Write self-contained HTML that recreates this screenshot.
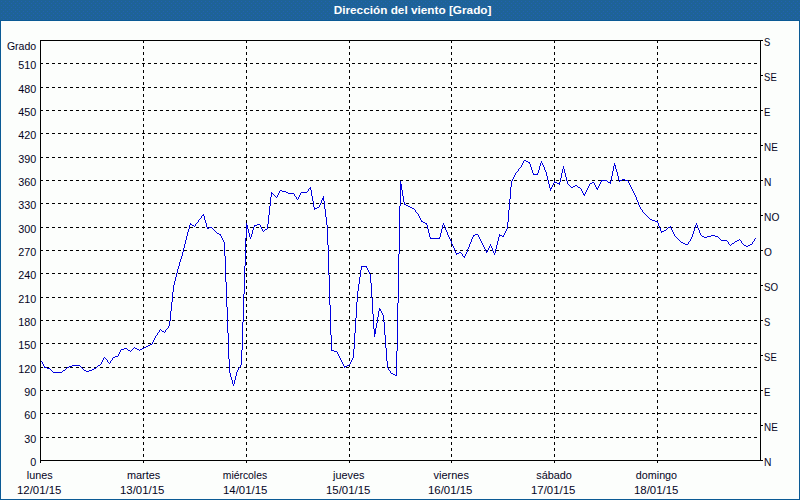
<!DOCTYPE html>
<html lang="es"><head><meta charset="utf-8"><title>Dirección del viento [Grado]</title>
<style>
html,body{margin:0;padding:0;background:#fff;}
body{width:800px;height:500px;overflow:hidden;font-family:"Liberation Sans",sans-serif;}
svg{display:block;}
text{font-family:"Liberation Sans",sans-serif;font-size:11px;fill:#04041c;}
.t{font-weight:bold;fill:#fff;font-size:11px;}
.g{stroke:#000;stroke-width:1;stroke-dasharray:3 3;shape-rendering:crispEdges;fill:none;}
.a{stroke:#000;stroke-width:1;shape-rendering:crispEdges;fill:none;}
.e{text-anchor:end;}.m{text-anchor:middle;}
</style></head><body>
<svg width="800" height="500" viewBox="0 0 800 500">
<defs><pattern id="d" width="4" height="4" patternUnits="userSpaceOnUse"><rect x="1" y="1" width="1" height="1" fill="#2161b3"/><rect x="3" y="3" width="1" height="1" fill="#2161b3"/></pattern></defs>
<rect x="0" y="0" width="800" height="500" fill="#0b5a95" shape-rendering="crispEdges"/>
<rect x="1" y="21" width="798" height="478" fill="#fcfefc" shape-rendering="crispEdges"/>
<rect x="0" y="0" width="800" height="20" fill="#1e6397" shape-rendering="crispEdges"/>
<rect x="0" y="0" width="800" height="20" fill="url(#d)" shape-rendering="crispEdges"/>
<text class="t m" x="412.6" y="14" textLength="157.8" lengthAdjust="spacingAndGlyphs">Dirección del viento [Grado]</text>
<line class="g" x1="40" y1="437.5" x2="760" y2="437.5"/>
<line class="g" x1="40" y1="413.5" x2="760" y2="413.5"/>
<line class="g" x1="40" y1="390.5" x2="760" y2="390.5"/>
<line class="g" x1="40" y1="367.5" x2="760" y2="367.5"/>
<line class="g" x1="40" y1="343.5" x2="760" y2="343.5"/>
<line class="g" x1="40" y1="320.5" x2="760" y2="320.5"/>
<line class="g" x1="40" y1="297.5" x2="760" y2="297.5"/>
<line class="g" x1="40" y1="273.5" x2="760" y2="273.5"/>
<line class="g" x1="40" y1="250.5" x2="760" y2="250.5"/>
<line class="g" x1="40" y1="227.5" x2="760" y2="227.5"/>
<line class="g" x1="40" y1="203.5" x2="760" y2="203.5"/>
<line class="g" x1="40" y1="180.5" x2="760" y2="180.5"/>
<line class="g" x1="40" y1="157.5" x2="760" y2="157.5"/>
<line class="g" x1="40" y1="133.5" x2="760" y2="133.5"/>
<line class="g" x1="40" y1="110.5" x2="760" y2="110.5"/>
<line class="g" x1="40" y1="87.5" x2="760" y2="87.5"/>
<line class="g" x1="40" y1="63.5" x2="760" y2="63.5"/>
<line class="g" x1="143.5" y1="40" x2="143.5" y2="460"/>
<line class="g" x1="246.5" y1="40" x2="246.5" y2="460"/>
<line class="g" x1="349.5" y1="40" x2="349.5" y2="460"/>
<line class="g" x1="451.5" y1="40" x2="451.5" y2="460"/>
<line class="g" x1="554.5" y1="40" x2="554.5" y2="460"/>
<line class="g" x1="657.5" y1="40" x2="657.5" y2="460"/>
<rect class="a" x="40.5" y="40.5" width="720" height="420"/>
<line class="a" x1="40.5" y1="460" x2="40.5" y2="463"/>
<line class="a" x1="143.5" y1="460" x2="143.5" y2="463"/>
<line class="a" x1="246.5" y1="460" x2="246.5" y2="463"/>
<line class="a" x1="349.5" y1="460" x2="349.5" y2="463"/>
<line class="a" x1="451.5" y1="460" x2="451.5" y2="463"/>
<line class="a" x1="554.5" y1="460" x2="554.5" y2="463"/>
<line class="a" x1="657.5" y1="460" x2="657.5" y2="463"/>
<line class="a" x1="760" y1="40.5" x2="763" y2="40.5"/>
<line class="a" x1="760" y1="75.5" x2="763" y2="75.5"/>
<line class="a" x1="760" y1="110.5" x2="763" y2="110.5"/>
<line class="a" x1="760" y1="145.5" x2="763" y2="145.5"/>
<line class="a" x1="760" y1="180.5" x2="763" y2="180.5"/>
<line class="a" x1="760" y1="215.5" x2="763" y2="215.5"/>
<line class="a" x1="760" y1="250.5" x2="763" y2="250.5"/>
<line class="a" x1="760" y1="285.5" x2="763" y2="285.5"/>
<line class="a" x1="760" y1="320.5" x2="763" y2="320.5"/>
<line class="a" x1="760" y1="355.5" x2="763" y2="355.5"/>
<line class="a" x1="760" y1="390.5" x2="763" y2="390.5"/>
<line class="a" x1="760" y1="425.5" x2="763" y2="425.5"/>
<line class="a" x1="760" y1="460.5" x2="763" y2="460.5"/>
<path d="M524 160h2v1h-2zM526 161h2v1h-2zM528 162h2v1h-2zM614 165h2v1h-2zM533 174h5v1h-5zM622 179h3v1h-3zM601 180h6v1h-6zM619 180h3v1h-3zM625 180h3v1h-3zM554 182h3v1h-3zM592 182h2v1h-2zM608 182h3v1h-3zM557 183h3v1h-3zM590 183h2v1h-2zM400 184h2v1h-2zM400 185h2v1h-2zM575 185h2v1h-2zM400 186h2v1h-2zM573 186h2v1h-2zM400 187h2v1h-2zM571 187h2v1h-2zM578 187h2v1h-2zM309 188h2v1h-2zM400 188h2v1h-2zM550 188h2v1h-2zM596 188h2v1h-2zM400 189h2v1h-2zM280 190h2v1h-2zM282 191h4v1h-4zM286 192h2v1h-2zM301 192h6v1h-6zM271 193h2v1h-2zM288 193h6v1h-6zM583 194h2v1h-2zM322 198h2v1h-2zM322 199h2v1h-2zM404 204h2v1h-2zM406 205h2v1h-2zM408 206h2v1h-2zM317 207h2v1h-2zM410 207h2v1h-2zM314 208h3v1h-3zM412 208h2v1h-2zM202 215h2v1h-2zM650 219h2v1h-2zM652 220h3v1h-3zM421 221h2v1h-2zM655 221h3v1h-3zM423 222h2v1h-2zM425 223h2v1h-2zM190 224h2v1h-2zM257 224h3v1h-3zM192 225h2v1h-2zM246 225h2v1h-2zM254 225h3v1h-3zM246 226h2v1h-2zM209 227h3v1h-3zM246 227h2v1h-2zM668 227h3v1h-3zM207 228h2v1h-2zM246 228h2v1h-2zM265 229h2v1h-2zM664 230h2v1h-2zM661 231h3v1h-3zM217 233h2v1h-2zM219 234h2v1h-2zM475 234h3v1h-3zM473 235h2v1h-2zM499 235h3v1h-3zM711 235h4v1h-4zM502 236h2v1h-2zM702 236h2v1h-2zM707 236h4v1h-4zM715 236h3v1h-3zM704 237h3v1h-3zM430 238h10v1h-10zM721 240h6v1h-6zM737 240h2v1h-2zM735 241h2v1h-2zM681 242h2v1h-2zM683 243h2v1h-2zM732 243h2v1h-2zM685 244h3v1h-3zM750 244h2v1h-2zM744 245h2v1h-2zM748 245h2v1h-2zM746 246h2v1h-2zM486 251h2v1h-2zM459 252h2v1h-2zM456 253h3v1h-3zM463 256h2v1h-2zM361 266h6v1h-6zM379 309h2v1h-2zM379 310h2v1h-2zM374 329h2v1h-2zM374 330h2v1h-2zM162 331h2v1h-2zM374 331h2v1h-2zM374 332h2v1h-2zM374 333h2v1h-2zM150 344h2v1h-2zM148 345h2v1h-2zM146 346h2v1h-2zM144 347h2v1h-2zM124 348h3v1h-3zM135 348h2v1h-2zM142 348h2v1h-2zM121 349h3v1h-3zM137 349h2v1h-2zM140 349h2v1h-2zM128 350h2v1h-2zM331 350h3v1h-3zM334 351h3v1h-3zM115 356h3v1h-3zM113 357h2v1h-2zM72 365h8v1h-8zM98 365h2v1h-2zM347 365h2v1h-2zM69 366h3v1h-3zM344 366h3v1h-3zM44 367h3v1h-3zM67 367h2v1h-2zM47 368h3v1h-3zM94 368h2v1h-2zM92 369h2v1h-2zM63 370h2v1h-2zM84 370h2v1h-2zM89 370h3v1h-3zM86 371h3v1h-3zM53 372h9v1h-9zM391 373h2v1h-2zM393 374h2v1h-2zM395 375h2v1h-2zM41 361h1v1h-1zM42 362h1v2h-1zM43 364h1v2h-1zM44 366h1v1h-1zM50 369h1v1h-1zM51 370h1v1h-1zM52 371h1v1h-1zM62 371h1v1h-1zM65 369h1v1h-1zM66 368h1v1h-1zM80 366h1v1h-1zM81 367h1v1h-1zM82 368h1v1h-1zM83 369h1v1h-1zM96 367h1v1h-1zM97 366h1v1h-1zM100 364h1v1h-1zM101 362h1v2h-1zM102 360h1v2h-1zM103 358h1v2h-1zM104 357h1v1h-1zM105 358h1v1h-1zM106 359h1v1h-1zM107 360h1v2h-1zM108 362h1v1h-1zM109 363h1v1h-1zM110 361h1v2h-1zM111 360h1v1h-1zM112 358h1v2h-1zM118 354h1v2h-1zM119 352h1v2h-1zM120 350h1v2h-1zM127 349h1v1h-1zM130 351h1v1h-1zM131 350h1v1h-1zM132 349h1v1h-1zM133 348h1v1h-1zM134 347h1v1h-1zM139 350h1v1h-1zM152 342h1v2h-1zM153 340h1v2h-1zM154 338h1v2h-1zM155 336h1v2h-1zM156 335h1v1h-1zM157 333h1v2h-1zM158 332h1v1h-1zM159 330h1v2h-1zM160 329h1v1h-1zM161 330h1v1h-1zM164 332h1v1h-1zM165 330h1v2h-1zM166 329h1v1h-1zM167 328h1v1h-1zM168 326h1v2h-1zM169 321h1v5h-1zM170 311h1v10h-1zM171 302h1v9h-1zM172 292h1v10h-1zM173 285h1v7h-1zM174 281h1v4h-1zM175 277h1v4h-1zM176 273h1v4h-1zM177 269h1v4h-1zM178 266h1v3h-1zM179 262h1v4h-1zM180 259h1v3h-1zM181 256h1v3h-1zM182 252h1v4h-1zM183 248h1v4h-1zM184 244h1v4h-1zM185 240h1v4h-1zM186 236h1v4h-1zM187 232h1v4h-1zM188 229h1v3h-1zM189 225h1v4h-1zM190 223h1v1h-1zM194 226h1v1h-1zM195 224h1v2h-1zM196 223h1v1h-1zM197 222h1v1h-1zM198 220h1v2h-1zM199 219h1v1h-1zM200 218h1v1h-1zM201 216h1v2h-1zM203 214h1v1h-1zM204 216h1v4h-1zM205 220h1v3h-1zM206 223h1v4h-1zM207 227h1v1h-1zM212 228h1v1h-1zM213 229h1v1h-1zM214 230h1v1h-1zM215 231h1v1h-1zM216 232h1v1h-1zM220 235h1v1h-1zM221 236h1v2h-1zM222 238h1v2h-1zM223 240h1v2h-1zM224 242h1v14h-1zM225 256h1v26h-1zM226 282h1v25h-1zM227 307h1v26h-1zM228 333h1v26h-1zM229 359h1v14h-1zM230 373h1v4h-1zM231 377h1v3h-1zM232 380h1v4h-1zM233 384h1v2h-1zM234 380h1v4h-1zM235 376h1v4h-1zM236 372h1v4h-1zM237 370h1v2h-1zM238 368h1v2h-1zM239 367h1v1h-1zM240 365h1v2h-1zM241 350h1v15h-1zM242 322h1v28h-1zM243 294h1v28h-1zM244 266h1v28h-1zM245 238h1v28h-1zM246 223h1v2h-1zM246 229h1v9h-1zM248 229h1v4h-1zM249 233h1v4h-1zM250 237h1v2h-1zM251 234h1v3h-1zM252 230h1v4h-1zM253 227h1v3h-1zM254 226h1v1h-1zM260 225h1v2h-1zM261 227h1v2h-1zM262 229h1v2h-1zM263 231h1v1h-1zM264 230h1v1h-1zM267 224h1v5h-1zM268 215h1v9h-1zM269 206h1v9h-1zM270 197h1v9h-1zM271 192h1v1h-1zM271 194h1v3h-1zM273 194h1v1h-1zM274 195h1v1h-1zM275 196h1v1h-1zM276 197h1v1h-1zM277 195h1v2h-1zM278 193h1v2h-1zM279 191h1v2h-1zM294 194h1v2h-1zM295 196h1v1h-1zM296 197h1v2h-1zM297 199h1v1h-1zM298 197h1v2h-1zM299 195h1v2h-1zM300 193h1v2h-1zM307 191h1v1h-1zM308 189h1v2h-1zM310 187h1v1h-1zM310 189h1v1h-1zM311 190h1v6h-1zM312 196h1v5h-1zM313 201h1v6h-1zM314 207h1v1h-1zM314 209h1v1h-1zM319 205h1v2h-1zM320 203h1v2h-1zM321 200h1v3h-1zM323 196h1v2h-1zM323 200h1v1h-1zM324 201h1v8h-1zM325 209h1v8h-1zM326 217h1v8h-1zM327 225h1v20h-1zM328 245h1v30h-1zM329 275h1v30h-1zM330 305h1v30h-1zM331 335h1v15h-1zM337 352h1v2h-1zM338 354h1v2h-1zM339 356h1v2h-1zM340 358h1v2h-1zM341 360h1v2h-1zM342 362h1v2h-1zM343 364h1v2h-1zM344 367h1v1h-1zM349 364h1v1h-1zM350 362h1v2h-1zM351 360h1v2h-1zM352 358h1v2h-1zM353 349h1v9h-1zM354 333h1v16h-1zM355 318h1v15h-1zM356 302h1v16h-1zM357 291h1v11h-1zM358 284h1v7h-1zM359 277h1v7h-1zM360 270h1v7h-1zM361 267h1v3h-1zM366 267h1v1h-1zM367 268h1v2h-1zM368 270h1v2h-1zM369 272h1v2h-1zM370 274h1v9h-1zM371 283h1v15h-1zM372 298h1v16h-1zM373 314h1v15h-1zM374 334h1v3h-1zM375 328h1v1h-1zM376 323h1v5h-1zM377 317h1v6h-1zM378 311h1v6h-1zM379 308h1v1h-1zM381 311h1v2h-1zM382 313h1v2h-1zM383 315h1v7h-1zM384 322h1v13h-1zM385 335h1v13h-1zM386 348h1v13h-1zM387 361h1v7h-1zM388 368h1v2h-1zM389 370h1v1h-1zM390 371h1v2h-1zM396 351h1v24h-1zM397 303h1v48h-1zM398 254h1v49h-1zM399 206h1v48h-1zM400 181h1v3h-1zM400 190h1v16h-1zM402 190h1v6h-1zM403 196h1v6h-1zM404 202h1v2h-1zM414 209h1v1h-1zM415 210h1v2h-1zM416 212h1v1h-1zM417 213h1v1h-1zM418 214h1v2h-1zM419 216h1v2h-1zM420 218h1v2h-1zM421 220h1v1h-1zM426 224h1v1h-1zM427 225h1v4h-1zM428 229h1v4h-1zM429 233h1v4h-1zM430 237h1v1h-1zM439 237h1v1h-1zM440 233h1v4h-1zM441 229h1v4h-1zM442 225h1v4h-1zM443 223h1v2h-1zM444 225h1v2h-1zM445 227h1v3h-1zM446 230h1v2h-1zM447 232h1v3h-1zM448 235h1v2h-1zM449 237h1v2h-1zM450 239h1v2h-1zM451 241h1v3h-1zM452 244h1v2h-1zM453 246h1v2h-1zM454 248h1v3h-1zM455 251h1v2h-1zM456 254h1v1h-1zM461 253h1v1h-1zM462 254h1v2h-1zM464 257h1v1h-1zM465 254h1v2h-1zM466 252h1v2h-1zM467 249h1v3h-1zM468 247h1v2h-1zM469 244h1v3h-1zM470 242h1v2h-1zM471 239h1v3h-1zM472 237h1v2h-1zM473 236h1v1h-1zM478 235h1v2h-1zM479 237h1v2h-1zM480 239h1v2h-1zM481 241h1v2h-1zM482 243h1v2h-1zM483 245h1v2h-1zM484 247h1v2h-1zM485 249h1v2h-1zM486 252h1v1h-1zM487 250h1v1h-1zM488 248h1v2h-1zM489 246h1v2h-1zM490 244h1v2h-1zM491 246h1v2h-1zM492 248h1v3h-1zM493 251h1v2h-1zM494 253h1v2h-1zM495 249h1v4h-1zM496 245h1v4h-1zM497 241h1v4h-1zM498 237h1v4h-1zM499 234h1v1h-1zM499 236h1v1h-1zM503 235h1v1h-1zM504 233h1v2h-1zM505 231h1v2h-1zM506 229h1v2h-1zM507 222h1v7h-1zM508 210h1v12h-1zM509 199h1v11h-1zM510 187h1v12h-1zM511 181h1v6h-1zM512 179h1v2h-1zM513 177h1v2h-1zM514 175h1v2h-1zM515 173h1v2h-1zM516 172h1v1h-1zM517 171h1v1h-1zM518 169h1v2h-1zM519 168h1v1h-1zM520 167h1v1h-1zM521 165h1v2h-1zM522 163h1v2h-1zM523 161h1v2h-1zM529 163h1v1h-1zM530 164h1v3h-1zM531 167h1v3h-1zM532 170h1v3h-1zM533 173h1v1h-1zM537 173h1v1h-1zM538 170h1v3h-1zM539 166h1v4h-1zM540 163h1v3h-1zM541 161h1v2h-1zM542 163h1v2h-1zM543 165h1v2h-1zM544 167h1v3h-1zM545 170h1v2h-1zM546 172h1v4h-1zM547 176h1v4h-1zM548 180h1v4h-1zM549 184h1v4h-1zM550 189h1v2h-1zM551 187h1v1h-1zM552 185h1v2h-1zM553 183h1v2h-1zM554 181h1v1h-1zM559 182h1v1h-1zM559 184h1v1h-1zM560 178h1v4h-1zM561 173h1v5h-1zM562 169h1v4h-1zM563 166h1v3h-1zM564 169h1v4h-1zM565 173h1v4h-1zM566 177h1v4h-1zM567 181h1v3h-1zM568 184h1v1h-1zM569 185h1v1h-1zM570 186h1v1h-1zM577 186h1v1h-1zM580 188h1v1h-1zM581 189h1v2h-1zM582 191h1v2h-1zM583 193h1v1h-1zM584 195h1v1h-1zM585 192h1v2h-1zM586 190h1v2h-1zM587 188h1v2h-1zM588 186h1v2h-1zM589 184h1v2h-1zM594 183h1v2h-1zM595 185h1v2h-1zM596 187h1v1h-1zM597 189h1v1h-1zM598 186h1v2h-1zM599 184h1v2h-1zM600 182h1v2h-1zM601 181h1v1h-1zM607 181h1v1h-1zM610 181h1v1h-1zM610 183h1v1h-1zM611 176h1v5h-1zM612 171h1v5h-1zM613 166h1v5h-1zM614 163h1v2h-1zM615 166h1v3h-1zM616 169h1v3h-1zM617 172h1v4h-1zM618 176h1v4h-1zM619 181h1v1h-1zM628 181h1v2h-1zM629 183h1v2h-1zM630 185h1v2h-1zM631 187h1v2h-1zM632 189h1v2h-1zM633 191h1v2h-1zM634 193h1v2h-1zM635 195h1v2h-1zM636 197h1v3h-1zM637 200h1v2h-1zM638 202h1v3h-1zM639 205h1v2h-1zM640 207h1v2h-1zM641 209h1v1h-1zM642 210h1v2h-1zM643 212h1v1h-1zM644 213h1v1h-1zM645 214h1v1h-1zM646 215h1v1h-1zM647 216h1v1h-1zM648 217h1v1h-1zM649 218h1v1h-1zM657 222h1v1h-1zM658 223h1v3h-1zM659 226h1v2h-1zM660 228h1v3h-1zM661 232h1v1h-1zM666 229h1v1h-1zM667 228h1v1h-1zM670 226h1v1h-1zM671 228h1v2h-1zM672 230h1v2h-1zM673 232h1v2h-1zM674 234h1v2h-1zM675 236h1v1h-1zM676 237h1v1h-1zM677 238h1v1h-1zM678 239h1v1h-1zM679 240h1v1h-1zM680 241h1v1h-1zM688 242h1v2h-1zM689 241h1v1h-1zM690 239h1v2h-1zM691 237h1v2h-1zM692 234h1v3h-1zM693 231h1v3h-1zM694 228h1v3h-1zM695 225h1v3h-1zM696 223h1v2h-1zM697 225h1v3h-1zM698 228h1v2h-1zM699 230h1v3h-1zM700 233h1v2h-1zM701 235h1v1h-1zM718 237h1v1h-1zM719 238h1v1h-1zM720 239h1v1h-1zM727 241h1v1h-1zM728 242h1v2h-1zM729 244h1v1h-1zM730 245h1v1h-1zM731 244h1v1h-1zM734 242h1v1h-1zM739 239h1v1h-1zM740 240h1v1h-1zM741 241h1v2h-1zM742 243h1v1h-1zM743 244h1v1h-1zM752 242h1v2h-1zM753 241h1v1h-1zM754 239h1v2h-1zM755 238h1v1h-1z" fill="#0000e0" stroke="none" shape-rendering="crispEdges"/>
<text class="e" x="36.2" y="49.5" textLength="29.3" lengthAdjust="spacingAndGlyphs">Grado</text>
<text class="e" x="36.2" y="465.5" textLength="6.0" lengthAdjust="spacingAndGlyphs">0</text>
<text class="e" x="36.2" y="442.5" textLength="12.0" lengthAdjust="spacingAndGlyphs">30</text>
<text class="e" x="36.2" y="418.5" textLength="12.0" lengthAdjust="spacingAndGlyphs">60</text>
<text class="e" x="36.2" y="395.5" textLength="12.0" lengthAdjust="spacingAndGlyphs">90</text>
<text class="e" x="36.2" y="372.5" textLength="18.0" lengthAdjust="spacingAndGlyphs">120</text>
<text class="e" x="36.2" y="348.5" textLength="18.0" lengthAdjust="spacingAndGlyphs">150</text>
<text class="e" x="36.2" y="325.5" textLength="18.0" lengthAdjust="spacingAndGlyphs">180</text>
<text class="e" x="36.2" y="302.5" textLength="18.0" lengthAdjust="spacingAndGlyphs">210</text>
<text class="e" x="36.2" y="278.5" textLength="18.0" lengthAdjust="spacingAndGlyphs">240</text>
<text class="e" x="36.2" y="255.5" textLength="18.0" lengthAdjust="spacingAndGlyphs">270</text>
<text class="e" x="36.2" y="232.5" textLength="18.0" lengthAdjust="spacingAndGlyphs">300</text>
<text class="e" x="36.2" y="208.5" textLength="18.0" lengthAdjust="spacingAndGlyphs">330</text>
<text class="e" x="36.2" y="185.5" textLength="18.0" lengthAdjust="spacingAndGlyphs">360</text>
<text class="e" x="36.2" y="162.5" textLength="18.0" lengthAdjust="spacingAndGlyphs">390</text>
<text class="e" x="36.2" y="138.5" textLength="18.0" lengthAdjust="spacingAndGlyphs">420</text>
<text class="e" x="36.2" y="115.5" textLength="18.0" lengthAdjust="spacingAndGlyphs">450</text>
<text class="e" x="36.2" y="92.5" textLength="18.0" lengthAdjust="spacingAndGlyphs">480</text>
<text class="e" x="36.2" y="68.5" textLength="18.0" lengthAdjust="spacingAndGlyphs">510</text>
<text x="764.1" y="45.7" textLength="6.3" lengthAdjust="spacingAndGlyphs">S</text>
<text x="764.1" y="80.7" textLength="12.6" lengthAdjust="spacingAndGlyphs">SE</text>
<text x="764.1" y="115.7" textLength="6.4" lengthAdjust="spacingAndGlyphs">E</text>
<text x="764.1" y="150.7" textLength="13.7" lengthAdjust="spacingAndGlyphs">NE</text>
<text x="764.1" y="185.7" textLength="7.4" lengthAdjust="spacingAndGlyphs">N</text>
<text x="764.1" y="220.7" textLength="15.3" lengthAdjust="spacingAndGlyphs">NO</text>
<text x="764.1" y="255.7" textLength="7.9" lengthAdjust="spacingAndGlyphs">O</text>
<text x="764.1" y="290.7" textLength="14.1" lengthAdjust="spacingAndGlyphs">SO</text>
<text x="764.1" y="325.7" textLength="6.3" lengthAdjust="spacingAndGlyphs">S</text>
<text x="764.1" y="360.7" textLength="12.6" lengthAdjust="spacingAndGlyphs">SE</text>
<text x="764.1" y="395.7" textLength="6.4" lengthAdjust="spacingAndGlyphs">E</text>
<text x="764.1" y="430.7" textLength="13.7" lengthAdjust="spacingAndGlyphs">NE</text>
<text x="764.1" y="465.7" textLength="7.4" lengthAdjust="spacingAndGlyphs">N</text>
<text x="26.8" y="478.5" textLength="25.8" lengthAdjust="spacingAndGlyphs">lunes</text>
<text class="m" x="39.2" y="493.7" textLength="44.4" lengthAdjust="spacingAndGlyphs">12/01/15</text>
<text x="126.9" y="478.5" textLength="33.3" lengthAdjust="spacingAndGlyphs">martes</text>
<text class="m" x="142.2" y="493.7" textLength="44.4" lengthAdjust="spacingAndGlyphs">13/01/15</text>
<text x="222.8" y="478.5" textLength="44.3" lengthAdjust="spacingAndGlyphs">miércoles</text>
<text class="m" x="245.2" y="493.7" textLength="44.4" lengthAdjust="spacingAndGlyphs">14/01/15</text>
<text x="333.0" y="478.5" textLength="31.4" lengthAdjust="spacingAndGlyphs">jueves</text>
<text class="m" x="348.2" y="493.7" textLength="44.4" lengthAdjust="spacingAndGlyphs">15/01/15</text>
<text x="433.6" y="478.5" textLength="35.3" lengthAdjust="spacingAndGlyphs">viernes</text>
<text class="m" x="450.2" y="493.7" textLength="44.4" lengthAdjust="spacingAndGlyphs">16/01/15</text>
<text x="536.3" y="478.5" textLength="35.6" lengthAdjust="spacingAndGlyphs">sábado</text>
<text class="m" x="553.2" y="493.7" textLength="44.4" lengthAdjust="spacingAndGlyphs">17/01/15</text>
<text x="635.8" y="478.5" textLength="41.3" lengthAdjust="spacingAndGlyphs">domingo</text>
<text class="m" x="656.2" y="493.7" textLength="44.4" lengthAdjust="spacingAndGlyphs">18/01/15</text>
</svg>
</body></html>
